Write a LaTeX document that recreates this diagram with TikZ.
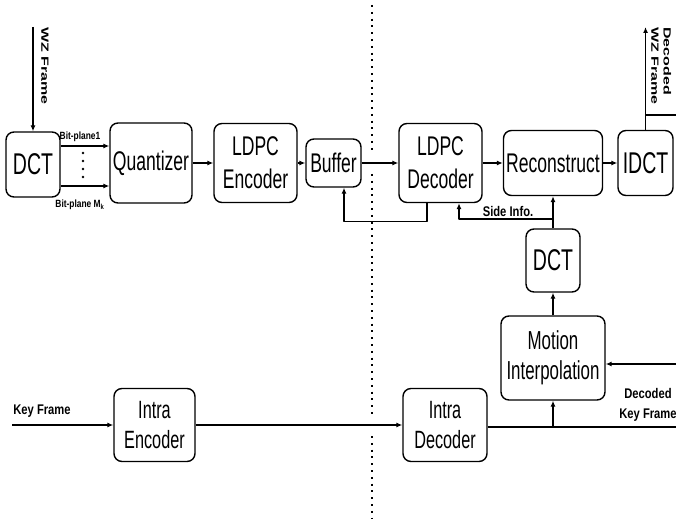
\documentclass[tikz,border=0pt]{standalone}
\usepackage{fontspec}
\setmainfont{Liberation Sans}
\newfontfamily\blkfont[FakeStretch=0.65]{Liberation Sans}
\newfontfamily\lblfont[FakeStretch=0.8]{Liberation Sans}
\usetikzlibrary{arrows.meta}

\tikzset{
  blk/.style={draw,line width=1.4pt,rounded corners=8pt,fill=white,align=center,inner sep=0pt,
    font=\blkfont\fontsize{27}{33}\selectfont},
  lbl/.style={inner sep=0pt,align=center,font=\lblfont\bfseries\fontsize{14}{20}\selectfont},
  vlbl/.style={inner sep=0pt,rotate=-90,font=\bfseries\fontsize{16}{19}\selectfont},
  flow/.style={line width=1.4pt,-{Latex[length=6pt,width=5pt]}},
  wire/.style={line width=1.4pt},
  divider/.style={line width=2pt,dash pattern=on 2pt off 4.8pt}
}

\begin{document}
\begin{tikzpicture}[x=1pt,y=-1pt,line cap=butt,line join=round]
  \useasboundingbox (0,0) rectangle (676,521);
  % encoder / decoder divider
  \draw[divider] (372,5) -- (372,153);
  \draw[divider] (372,174) -- (372,415);
  \draw[divider] (372,436) -- (372,518);

  % WZ encoder
  \node[blk,minimum width=54pt,minimum height=65pt,font=\blkfont\fontsize{30}{36}\selectfont] (dct) at (33,164.5) {DCT};
  \node[blk,minimum width=82pt,minimum height=80pt] (quant) at (151,163) {Quantizer};
  \node[blk,minimum width=83pt,minimum height=79pt] (ldpcenc) at (255.5,163) {LDPC\\Encoder};
  \node[blk,minimum width=55pt,minimum height=48pt] (buffer) at (333.5,163) {Buffer};
  \coordinate (wzin) at (33,27);
  \draw[flow] (wzin) -- (dct);
  \node[vlbl] (wzlbl) at (45,66) {\scalebox{1}[0.65]{WZ Frame}};
  \draw[flow] (dct.east |- 0,146) -- (quant.west |- 0,146);
  \draw[flow] (dct.east |- 0,186) -- (quant.west |- 0,186);
  \foreach \y in {153,161,169,177}
    \fill (83,\y) circle (1.3pt);
  \node[lbl,font=\lblfont\bfseries\fontsize{10.5}{12}\selectfont] (bpone) at (80,137) {Bit-plane1};
  \node[lbl,font=\lblfont\bfseries\fontsize{10.5}{12}\selectfont] (bpm) at (80,205) {Bit-plane M\textsubscript{k}};
  \draw[flow] (quant) -- (ldpcenc);
  \draw[flow] (ldpcenc) -- (buffer);

  % WZ decoder
  \node[blk,minimum width=83pt,minimum height=79pt] (ldpcdec) at (440.5,163) {LDPC\\Decoder};
  \node[blk,minimum width=99pt,minimum height=65pt] (recon) at (553,163) {Reconstruct};
  \node[blk,minimum width=55pt,minimum height=65pt,font=\blkfont\fontsize{30}{36}\selectfont] (idct) at (645.5,163) {IDCT};
  \node[blk,minimum width=54pt,minimum height=63pt,font=\blkfont\fontsize{30}{36}\selectfont] (sidct) at (553,260.5) {DCT};
  \node[blk,minimum width=104pt,minimum height=84pt,font=\blkfont\fontsize{26}{30}\selectfont] (interp) at (553,358) {Motion\\Interpolation};
  \draw[flow] (buffer) -- (ldpcdec);
  \draw[flow] (ldpcdec) -- (recon);
  \draw[flow] (recon) -- (idct);
  \draw[flow] ([xshift=-13.5pt]ldpcdec.south) -- ++(0,18) -| ([xshift=10.5pt]buffer.south);
  \draw[flow] (sidct) -- (recon);
  \coordinate (sijoin) at (553,219);
  \draw[flow] (sijoin) -| ([xshift=18.5pt]ldpcdec.south);
  \node[lbl] (silbl) at (508,211) {Side Info.};
  \coordinate (wzout) at (645.5,27);
  \draw[flow] (idct) -- (wzout);
  \coordinate (stub) at (676,115);
  \draw[wire] (idct.north |- stub) -- (stub);
  \node[vlbl] (outlbl) at (660,66) {\scalebox{1}[0.65]{\begin{tabular}{@{}l@{}}Decoded\\WZ Frame\end{tabular}}};
  \draw[flow] (interp) -- (sidct);

  % key frames
  \node[blk,minimum width=81pt,minimum height=73pt,font=\blkfont\fontsize{25}{30}\selectfont] (intraenc) at (154.5,425) {Intra\\Encoder};
  \node[blk,minimum width=84pt,minimum height=73pt,font=\blkfont\fontsize{25}{30}\selectfont] (intradec) at (445,425) {Intra\\Decoder};
  \coordinate (keyin) at (12,425);
  \node[lbl] (keylbl) at (42,411) {Key Frame};
  \draw[flow] (keyin) -- (intraenc);
  \draw[flow] (intraenc) -- (intradec);
  \coordinate (kfout) at (676,427);
  \draw[wire] (intradec.east |- kfout) -- (kfout);
  \draw[flow] (interp.south |- kfout) -- (interp);
  \coordinate (kfin) at (676,364);
  \draw[flow] (kfin) -- (interp.east |- kfin);
  \node[lbl] (kflbl) at (648,405) {Decoded\\Key Frame};
\end{tikzpicture}
\end{document}
